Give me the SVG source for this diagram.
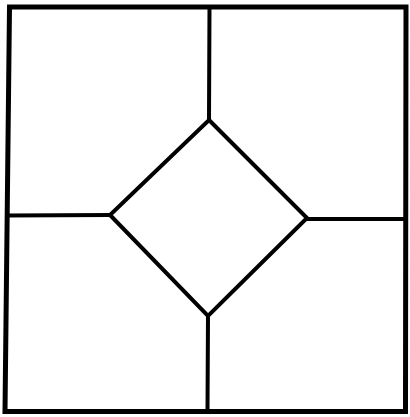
<svg xmlns="http://www.w3.org/2000/svg" width="410" height="417" viewBox="0 0 410 417">
<style>
.ln{fill:none;stroke:#000;stroke-linejoin:miter;stroke-linecap:square}
</style>
<rect width="410" height="417" fill="#fff"/>
<g id="frame">
<path class="ln" stroke-width="5" d="M9.5,7 L406,7 L405.5,411.5 L5,411.5 Z"/>
</g>
<g id="diamond">
<path class="ln" stroke-width="4" d="M209,120 L307,218 L208,316 L110,215 Z"/>
</g>
<g id="connectors">
<path class="ln" stroke-width="4" d="M209.5,7 L209,120"/>
<path class="ln" stroke-width="4" d="M307,219 L406,219"/>
<path class="ln" stroke-width="4" d="M208,316 L207.5,411"/>
<path class="ln" stroke-width="4" d="M110,215 L8,215.5"/>
</g>
</svg>
